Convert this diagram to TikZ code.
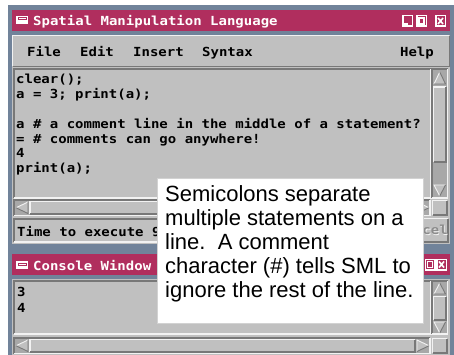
\documentclass[tikz,border=0pt]{standalone}
\usepackage{fontspec}
\setmainfont{Liberation Sans}
\newfontfamily\codefont[FakeStretch=1.12]{DejaVu Sans Mono}
\definecolor{slate}{HTML}{71839A}
\definecolor{crim}{HTML}{B02E5E}
\definecolor{wgray}{HTML}{C0C0C0}
\definecolor{hiw}{HTML}{F2F2F2}
\definecolor{lod}{HTML}{787878}
\definecolor{trough}{HTML}{A8A8A8}
\definecolor{dimtxt}{HTML}{8C8C8C}
\tikzset{
  code/.style={anchor=base west, inner sep=0pt, font=\codefont\bfseries\fontsize{12.5}{15}\selectfont, text=black},
  ttl/.style={code, text=white},
  note/.style={anchor=base west, inner sep=0pt, font=\fontsize{22}{24}\selectfont, text=black},
  bev/.style={line width=1.2pt},
}
\newcommand\raisedrect[4]{%
  \fill[wgray] (#1,#2) rectangle (#3,#4);
  \draw[hiw, bev] (#1,#4) -- (#1,#2) -- (#3,#2);
  \draw[lod, bev] (#1,#4) -- (#3,#4) -- (#3,#2);}
\newcommand\sunkrect[5]{%
  \fill[#5] (#1,#2) rectangle (#3,#4);
  \draw[lod, bev] (#1,#4) -- (#1,#2) -- (#3,#2);
  \draw[hiw, bev] (#1,#4) -- (#3,#4) -- (#3,#2);}
\newcommand\uparr[4]{%
  \fill[wgray] (#1,#4) -- ({(#1+#3)/2},#2) -- (#3,#4) -- cycle;
  \draw[hiw, line width=0.9pt] (#1,#4) -- ({(#1+#3)/2},#2);
  \draw[lod, line width=0.9pt] ({(#1+#3)/2},#2) -- (#3,#4) -- (#1,#4);}
\newcommand\downarr[4]{%
  \fill[wgray] (#1,#2) -- (#3,#2) -- ({(#1+#3)/2},#4) -- cycle;
  \draw[hiw, line width=0.9pt] ({(#1+#3)/2},#4) -- (#1,#2) -- (#3,#2);
  \draw[lod, line width=0.9pt] (#3,#2) -- ({(#1+#3)/2},#4);}
\newcommand\leftarr[4]{%
  \fill[wgray] (#1,{(#2+#4)/2}) -- (#3,#2) -- (#3,#4) -- cycle;
  \draw[hiw, line width=0.9pt] (#3,#2) -- (#1,{(#2+#4)/2});
  \draw[lod, line width=0.9pt] (#1,{(#2+#4)/2}) -- (#3,#4) -- (#3,#2);}
\newcommand\rightarr[4]{%
  \fill[wgray] (#1,#2) -- (#3,{(#2+#4)/2}) -- (#1,#4) -- cycle;
  \draw[hiw, line width=0.9pt] (#1,#4) -- (#1,#2) -- (#3,{(#2+#4)/2});
  \draw[lod, line width=0.9pt] (#3,{(#2+#4)/2}) -- (#1,#4);}
\newcommand\winicon[2]{%
  \fill[white] (#1,#2) rectangle ++(12,8);
  \fill[crim] ({#1+1.5},{#2+1.5}) rectangle ++(9,3);
  \fill[white] ({#1+2.5},{#2+2.5}) rectangle ++(7,1);}
\newcommand\minbtn[2]{%
  \fill[white] (#1,#2) rectangle ++(11,12);
  \fill[crim] ({#1+1.5},{#2+1.5}) rectangle ++(8,7);
  \fill[crim] ({#1+6},{#2+8}) rectangle ++(3.5,2.5);}
\newcommand\maxbtn[2]{%
  \fill[white] (#1,#2) rectangle ++(11,12);
  \fill[crim] ({#1+1.5},{#2+1.5}) rectangle ++(8,9);
  \draw[white, line width=1.3pt] ({#1+3},{#2+3}) rectangle ++(5,6);}
\newcommand\closebtn[2]{%
  \fill[white] (#1,#2) rectangle ++(11,12);
  \fill[crim] ({#1+1.5},{#2+1.5}) rectangle ++(8,9);
  \draw[white, line width=1.6pt] ({#1+3},{#2+3}) -- ++(5,6) ({#1+8},{#2+3}) -- ++(-5,6);}
\begin{document}
\begin{tikzpicture}[x=1pt, y=-1pt]
\useasboundingbox (0,0) rectangle (454,355);
\fill[white] (0,0) rectangle (454,355);
% ===== SML window =====
\fill[slate] (8,5) rectangle (454,355);
\fill[crim] (12,10) rectangle (450,31);
\winicon{16}{16}
\node[ttl] (title1) at (33,25.5) {Spatial Manipulation Language};
\minbtn{402}{15}
\maxbtn{416}{15}
\closebtn{435}{15}
\fill[wgray] (12,35) rectangle (450,244);
\raisedrect{12.6}{35.6}{449.4}{66.4}
\node[code] (mfile) at (27,56.5) {File};
\node[code] (medit) at (80,56.5) {Edit};
\node[code] (mins) at (133,56.5) {Insert};
\node[code] (msyn) at (202,56.5) {Syntax};
\node[code, anchor=base east] (mhelp) at (434,56.5) {Help};
\sunkrect{14}{69}{431}{198}{wgray}
\node[code] (c1) at (16,84) {clear();};
\node[code] (c2) at (16,99) {a = 3; print(a);};
\node[code] (c3) at (16,128.5) {a \# a comment line in the middle of a statement?};
\node[code] (c4) at (16,143.5) {= \# comments can go anywhere!};
\node[code] (c5) at (16,158) {4};
\node[code] (c6) at (16,172.5) {print(a);};
\sunkrect{432}{69}{447.5}{198}{trough}
\uparr{434}{72}{445.5}{84}
\raisedrect{433.5}{87}{446}{162}
\downarr{434}{185}{445.5}{196}
\sunkrect{14}{200}{430}{215.5}{trough}
\leftarr{16}{202}{28}{213.5}
\raisedrect{30}{201.5}{300}{214}
\rightarr{417}{202}{429}{213.5}
\raisedrect{432.5}{200.5}{447}{215}
\sunkrect{14}{219}{394}{242}{wgray}
\node[code] (status) at (17,236.5) {Time to execute 9};
\raisedrect{397}{218.5}{448}{242}
\node[code, text=hiw] (cancelsh) at (397.8,235.2) {Cancel};
\node[code, text=dimtxt] (cancel) at (397,234.5) {Cancel};
% ===== Console window =====
\fill[slate] (8,244) rectangle (454,355);
\fill[crim] (12,254) rectangle (450,275);
\winicon{16}{261}
\node[ttl] (title2) at (33,270) {Console Window};
\minbtn{413}{258.5}
\maxbtn{424.5}{258.5}
\closebtn{436}{258.5}
\fill[wgray] (12,279) rectangle (450,355);
\sunkrect{14}{281}{431}{334}{wgray}
\node[code] (o1) at (17,296.5) {3};
\node[code] (o2) at (17,312) {4};
\sunkrect{432}{281}{447.5}{334}{trough}
\uparr{434}{283}{445.5}{294}
\raisedrect{433.5}{296.5}{446}{320}
\downarr{434}{322}{445.5}{333}
\sunkrect{14}{338}{430}{353.5}{trough}
\leftarr{16}{340}{28}{351.5}
\raisedrect{30}{339.5}{415}{352}
\rightarr{417}{340}{429}{351.5}
\raisedrect{432.5}{338.5}{447}{353}
% ===== callout =====
\fill[white] (157,178) rectangle (423,323);
\draw[gray!35, line width=0.6pt] (157,178) rectangle (423,323);
\node[note] (n1) at (165,201) {Semicolons separate};
\node[note] (n2) at (165,225) {multiple statements on a};
\node[note] (n3) at (165,249) {line.\ \ A comment};
\node[note] (n4) at (165,273) {character (\#) tells SML to};
\node[note] (n5) at (165,297) {ignore the rest of the line.};
\end{tikzpicture}
\end{document}
